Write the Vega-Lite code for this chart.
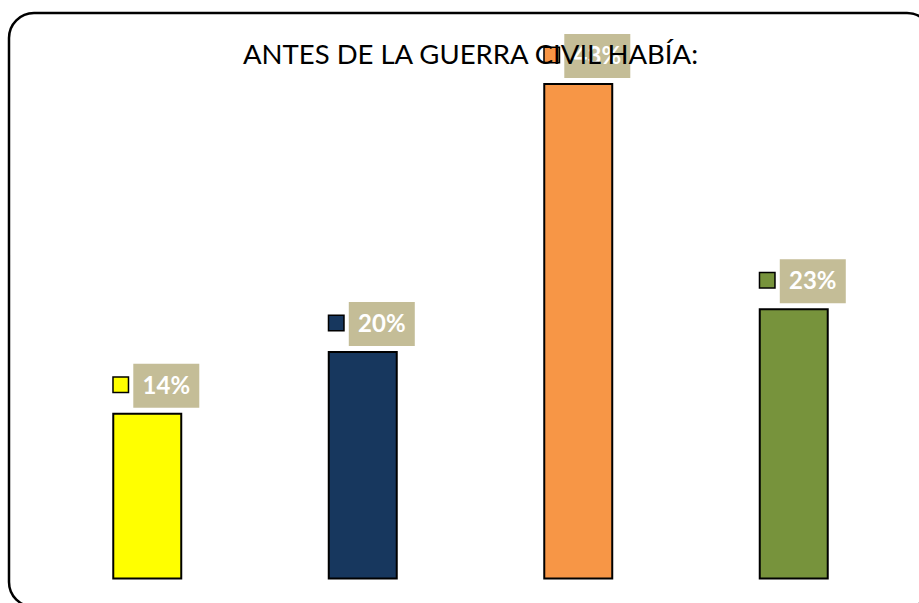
{
  "$schema": "https://vega.github.io/schema/vega-lite/v6.json",
  "width": 923,
  "height": 594,
  "autosize": {"type": "none"},
  "padding": {"left": 9, "top": 13, "right": 0, "bottom": 0},
  "background": "white",
  "config": {
    "view": {"fill": "white", "stroke": "black", "strokeWidth": 2.5, "cornerRadius": 25},
    "font": "Lato"
  },
  "title": {
    "text": "ANTES DE LA GUERRA CIVIL HABÍA:",
    "fontSize": 27.5,
    "font": "Lato",
    "fontWeight": "normal",
    "color": "black",
    "anchor": "middle",
    "baseline": "alphabetic",
    "offset": -78
  },
  "data": {
    "values": [
      {"categoria": "Serie 1", "valor": 14.2, "etiqueta": "14%"},
      {"categoria": "Serie 2", "valor": 19.5, "etiqueta": "20%"},
      {"categoria": "Serie 3", "valor": 42.6, "etiqueta": "43%"},
      {"categoria": "Serie 4", "valor": 23.2, "etiqueta": "23%"}
    ]
  },
  "layer": [
    {
      "mark": {"type": "bar", "stroke": "black", "strokeWidth": 2},
      "encoding": {
        "x": {"field": "categoria", "type": "nominal", "sort": null, "axis": null,
              "scale": {"paddingInner": 0.6845, "paddingOuter": 0.4838}},
        "y": {"field": "valor", "type": "quantitative", "axis": null,
              "scale": {"domain": [-2.455, 48.71], "nice": false, "zero": false}},
        "color": {"field": "categoria", "type": "nominal", "legend": null,
                  "scale": {"domain": ["Serie 1", "Serie 2", "Serie 3", "Serie 4"],
                            "range": ["#FFFF00", "#17375E", "#F79646", "#77933C"]}}
      }
    },
    {
      "mark": {"type": "point", "shape": "M-1.5,-1H1.5V1H-1.5Z", "filled": true, "size": 1936,
               "color": "#C4BD97", "strokeWidth": 0, "opacity": 1, "yOffset": -28},
      "encoding": {
        "x": {"field": "categoria", "type": "nominal", "sort": null, "bandPosition": 0.78},
        "y": {"field": "valor", "type": "quantitative"}
      }
    },
    {
      "mark": {"type": "square", "size": 240, "stroke": "black", "strokeWidth": 1.5, "opacity": 1, "yOffset": -29},
      "encoding": {
        "x": {"field": "categoria", "type": "nominal", "sort": null, "bandPosition": 0.11},
        "y": {"field": "valor", "type": "quantitative"},
        "fill": {"field": "categoria", "type": "nominal", "legend": null,
                 "scale": {"domain": ["Serie 1", "Serie 2", "Serie 3", "Serie 4"],
                           "range": ["#FFFF00", "#17375E", "#F79646", "#77933C"]}}
      }
    },
    {
      "mark": {"type": "text", "fontWeight": "bold", "fontSize": 24, "color": "white",
               "yOffset": -27, "baseline": "middle", "align": "center"},
      "encoding": {
        "x": {"field": "categoria", "type": "nominal", "sort": null, "bandPosition": 0.78},
        "y": {"field": "valor", "type": "quantitative"},
        "text": {"field": "etiqueta"}
      }
    }
  ]
}
